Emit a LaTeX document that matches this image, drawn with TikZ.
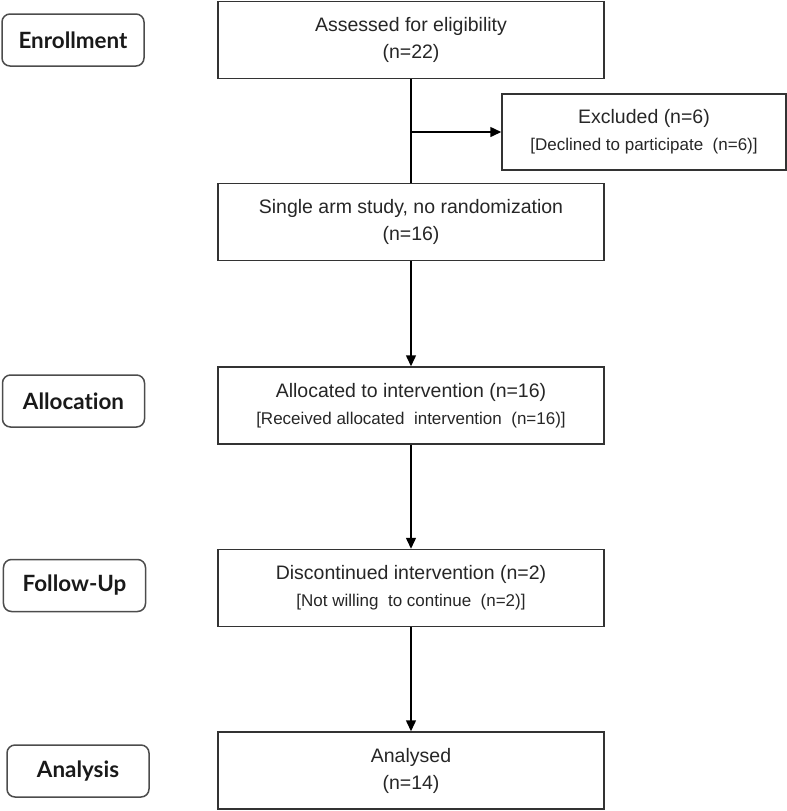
\documentclass[tikz,border=0pt]{standalone}
\usepackage{fontspec}
\setmainfont{Liberation Sans}
\newfontfamily\stagefont{Lato}[Ligatures={NoCommon,NoRare}]
\usetikzlibrary{arrows.meta}

\newcommand{\notesize}{\fontsize{8.5}{11}\selectfont}

\tikzset{
  flowbox/.style={draw=black!80, line width=0.75pt, minimum width=193pt,
    minimum height=38.5pt, inner sep=0pt, align=center, text=black!85,
    font=\fontsize{9.75}{13.5}\selectfont},
  stagebox/.style={draw=black!70, line width=0.75pt, rounded corners=4pt,
    minimum width=71pt, minimum height=26pt, inner sep=0pt, text=black!90,
    font=\stagefont\bfseries\fontsize{11.2}{13}\selectfont},
}

\begin{document}
\begin{tikzpicture}[x=0.5pt, y=-0.5pt, >={Triangle[width=5pt,length=5.5pt]}]
  \useasboundingbox (0,0) rectangle (787,811);

  % stages on the left
  \node[stagebox] (enroll) at (73,40) {Enrollment};
  \node[stagebox] (alloc) at (73.5,401) {Allocation};
  \node[stagebox] (follow) at (74.5,585.5) {Follow-Up};
  \node[stagebox] (analysis) at (78,771) {Analysis};

  % flow boxes
  \node[flowbox] (assessed) at (411,40) {Assessed for eligibility\\(n=22)};
  \node[flowbox, minimum width=142pt, minimum height=38pt] (excluded) at (644,132)
    {Excluded (n=6)\\\notesize [Declined to participate~ (n=6)]};
  \node[flowbox] (single) at (411,222) {Single arm study, no randomization\\(n=16)};
  \node[flowbox] (allocated) at (411,405.5)
    {Allocated to intervention (n=16)\\\notesize [Received allocated~ intervention~ (n=16)]};
  \node[flowbox] (discont) at (411,588)
    {Discontinued intervention (n=2)\\\notesize [Not willing~ to continue~ (n=2)]};
  \node[flowbox] (analysed) at (411,770.5) {Analysed\\(n=14)};

  % connectors
  \coordinate (split) at (assessed.south |- excluded.west);
  \draw[line width=0.75pt] (assessed) -- (single);
  \draw[line width=0.75pt, ->] (split) -- (excluded);
  \draw[line width=0.75pt, ->] (single) -- (allocated);
  \draw[line width=0.75pt, ->] (allocated) -- (discont);
  \draw[line width=0.75pt, ->] (discont) -- (analysed);
\end{tikzpicture}
\end{document}
